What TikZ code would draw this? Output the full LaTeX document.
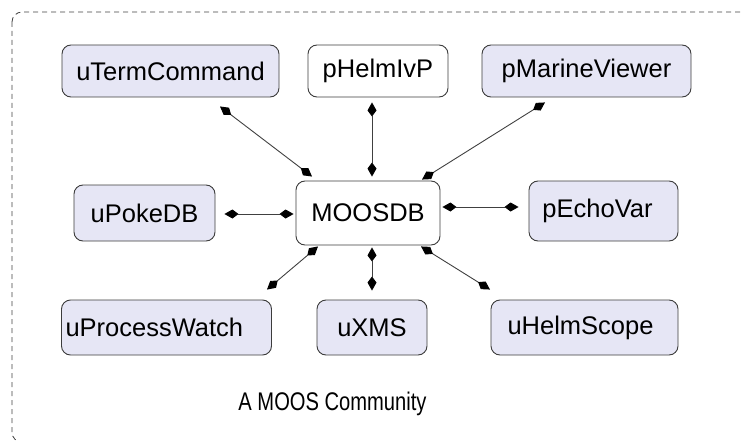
\documentclass[tikz,border=0pt]{standalone}
\usepackage{fontspec}
\setmainfont{Liberation Sans}
\usetikzlibrary{arrows.meta,calc}
\definecolor{procfill}{RGB}{230,230,245}
\definecolor{edgegray}{RGB}{60,60,60}
\tikzset{
  proc/.style={draw=edgegray, line width=0.9pt, rounded corners=9pt, fill=procfill,
     inner sep=0pt, font=\fontsize{25.5}{28}\selectfont, anchor=center},
  plainproc/.style={proc, fill=white},
  link/.style={draw=black!75, line width=0.9pt,
     {Kite[length=14pt,width=9pt,inset=6pt,color=black]}-{Kite[length=14pt,width=9pt,inset=6pt,color=black]}},
  community/.style={draw=black!75, line width=0.8pt, dash pattern=on 5pt off 4pt, rounded corners=10pt}
}
\begin{document}
\begin{tikzpicture}[x=1pt,y=-1pt]
\useasboundingbox (0,0) rectangle (741,441);
\clip (0,0) rectangle (741,441);
\draw[community] (12,12) rectangle (790,442.2);

\node[proc, minimum width=217pt, minimum height=52pt] (tc) at (170.5,71) {uTermCommand};
\node[plainproc, minimum width=140pt, minimum height=52pt] (hp) at (378,71) {pHelmIvP};
\node[proc, minimum width=209pt, minimum height=52pt] (mv) at (586.5,71) {pMarineViewer};
\node[proc, minimum width=141pt, minimum height=56pt] (pk) at (144.5,213) {uPokeDB};
\node[plainproc, minimum width=144pt, minimum height=64pt] (db) at (368,213) {MOOSDB};
\node[proc, minimum width=149pt, minimum height=60pt] (ev) at (603.5,211) {\hspace*{-12pt}pEchoVar};
\node[proc, text width=202pt, inner xsep=4pt, align=left, minimum height=55pt] (pw) at (166.5,327.5) {uProcessWatch};
\node[proc, minimum width=110pt, minimum height=55pt] (xm) at (372,327.5) {uXMS};
\node[proc, minimum width=187pt, minimum height=55pt] (hs) at (584.5,327.5) {\hspace*{-8pt}uHelmScope};

\node[font=\fontsize{25.5}{28}\selectfont, inner sep=0pt] (cap) at (332.5,404) {\scalebox{0.79}[1]{A MOOS Community}};

\draw[link] ($(tc.south)+(49.5,9)$) -- ($(db.north)+(-56,-4)$);
\draw[link] ($(hp.south)+(-6,5)$) -- ($(db.north)+(4,-4)$);
\draw[link] ($(mv.south)+(-41.5,5)$) -- ($(db.north)+(54,-1)$);
\draw[link] ($(pk.east)+(9,1)$) -- ($(db.west)+(-2,1)$);
\draw[link] ($(db.east)+(2,-6)$) -- ($(ev.west)+(-10,-4)$);
\draw[link] ($(db.south)+(-50,1)$) -- ($(pw.north)+(100.5,-10)$);
\draw[link] ($(db.south)+(4,2)$) -- ($(xm.north)+(0,-9)$);
\draw[link] ($(db.south)+(53,1)$) -- ($(hs.north)+(-94.5,-10)$);
\end{tikzpicture}
\end{document}
